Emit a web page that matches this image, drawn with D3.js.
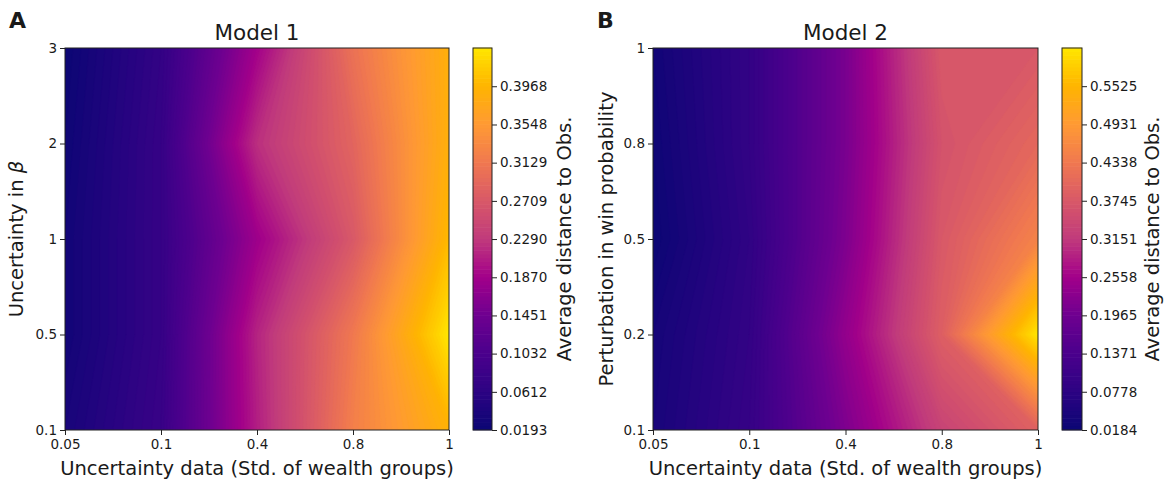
<!DOCTYPE html>
<html>
<head>
<meta charset="utf-8">
<script src="https://cdn.jsdelivr.net/npm/d3@7"></script>
<style>
  body { margin: 0; background: #fff; }
  text { font-family: "DejaVu Sans", sans-serif; fill: #1a1a1a; }
</style>
</head>
<body>
<div id="chart"></div>
<script>
// grid categories (shared x, separate y per model)
const xCats = ["0.05", "0.1", "0.4", "0.8", "1"];
const yCatsA = ["0.1", "0.5", "1", "2", "3"];
const yCatsB = ["0.1", "0.2", "0.5", "0.8", "1"];

// average distance to obs, rows go from bottom y category to top
const distA = [
    [0.0361, 0.0780, 0.2081, 0.3213, 0.3927],
    [0.0277, 0.0738, 0.2123, 0.3130, 0.4388],
    [0.0277, 0.0738, 0.1829, 0.2710, 0.4010],
    [0.0235, 0.0738, 0.2207, 0.2878, 0.3885],
    [0.0193, 0.0696, 0.1871, 0.3046, 0.3885]
];
const distB = [
    [0.0421, 0.0955, 0.2142, 0.3330, 0.3922],
    [0.0362, 0.0896, 0.2380, 0.3863, 0.6118],
    [0.0184, 0.0837, 0.2142, 0.3744, 0.4516],
    [0.0243, 0.0896, 0.2083, 0.3626, 0.4041],
    [0.0303, 0.0896, 0.2083, 0.3744, 0.3744]
];

// colorbar tick labels
const cbTicksA = [0.0193, 0.0612, 0.1032, 0.1451, 0.1870, 0.2290, 0.2709, 0.3129, 0.3548, 0.3968];
const cbTicksB = [0.0184, 0.0778, 0.1371, 0.1965, 0.2558, 0.3151, 0.3745, 0.4338, 0.4931, 0.5525];

// colour ramp (plasma-like, as in the picture)
const rampColors = ["#0b0674", "#2c0383", "#4a008c", "#6e0090", "#a2008a",
    "#c03a7c", "#d85868", "#f07850", "#ff9a34", "#ffb400", "#ffe600"];
const ramp = d3.scaleLinear()
    .domain(rampColors.map((c, i) => i / (rampColors.length - 1)))
    .range(rampColors)
    .interpolate(d3.interpolateRgb);

const nLevels = 100;

const svg = d3.select("#chart").append("svg")
    .attr("width", 1170)
    .attr("height", 484);

function drawPanel(opt) {
    const g = svg.append("g");
    const vals = opt.data.flat();
    const [vmin, vmax] = d3.extent(vals);
    const levels = d3.range(nLevels).map(i => vmin + i * (vmax - vmin) / nLevels);

    const x = d3.scaleLinear().domain([0, xCats.length - 1]).range([opt.left, opt.right]);
    const y = d3.scaleLinear().domain([0, opt.yCats.length - 1]).range([opt.bottom, opt.top]);

    // clip for the contour fills
    const clipId = "clip" + opt.name;
    svg.append("clipPath").attr("id", clipId)
        .append("rect")
        .attr("x", opt.left).attr("y", opt.top)
        .attr("width", opt.right - opt.left).attr("height", opt.bottom - opt.top);

    // d3.contours puts sample i at i + 0.5
    const proj = d3.geoTransform({
        point: function(px, py) { this.stream.point(x(px - 0.5), y(py - 0.5)); }
    });
    const path = d3.geoPath(proj);

    const contours = d3.contours()
        .size([xCats.length, opt.yCats.length])
        .thresholds(levels)(vals);

    g.append("g").attr("clip-path", `url(#${clipId})`)
        .selectAll("path")
        .data(contours)
        .join("path")
        .attr("d", path)
        .attr("fill", (d, i) => ramp((i + 0.5) / nLevels))
        .attr("stroke", (d, i) => ramp((i + 0.5) / nLevels))
        .attr("stroke-width", 0.6);

    // frame
    g.append("rect")
        .attr("x", opt.left).attr("y", opt.top)
        .attr("width", opt.right - opt.left).attr("height", opt.bottom - opt.top)
        .attr("fill", "none").attr("stroke", "#222").attr("stroke-width", 1);

    // axes
    const xAxis = g.append("g")
        .attr("transform", `translate(0, ${opt.bottom})`)
        .call(d3.axisBottom(x).tickValues(d3.range(xCats.length))
            .tickFormat(i => xCats[i]).tickSize(5).tickPadding(4.5));
    const yAxis = g.append("g")
        .attr("transform", `translate(${opt.left}, 0)`)
        .call(d3.axisLeft(y).tickValues(d3.range(opt.yCats.length))
            .tickFormat(i => opt.yCats[i]).tickSize(5).tickPadding(3));
    [xAxis, yAxis].forEach(a => {
        a.select(".domain").remove();
        a.selectAll("text").attr("font-size", 13.5).attr("font-family", "DejaVu Sans").attr("fill", "#1a1a1a");
        a.selectAll("line").attr("stroke", "#222");
    });

    // titles and labels
    g.append("text")
        .attr("x", (opt.left + opt.right) / 2).attr("y", 40)
        .attr("text-anchor", "middle").attr("font-size", 21.5)
        .text(opt.title);
    g.append("text")
        .attr("x", opt.panelX).attr("y", 28)
        .attr("font-size", 22).attr("font-weight", "bold")
        .text(opt.name);
    g.append("text")
        .attr("x", (opt.left + opt.right) / 2).attr("y", 475)
        .attr("text-anchor", "middle").attr("font-size", 19.5)
        .text("Uncertainty data (Std. of wealth groups)");

    const yl = g.append("text")
        .attr("transform", `translate(${opt.yLabelX}, ${(opt.top + opt.bottom) / 2}) rotate(-90)`)
        .attr("text-anchor", "middle").attr("font-size", 19.5);
    opt.yLabel.forEach(p => yl.append("tspan").attr("font-style", p.italic ? "italic" : null).text(p.t));

    // colorbar
    const cb = d3.scaleLinear().domain([vmin, vmax]).range([opt.bottom, opt.top]);
    const cbW = opt.cbRight - opt.cbLeft;
    g.append("g").selectAll("rect")
        .data(levels)
        .join("rect")
        .attr("x", opt.cbLeft)
        .attr("y", (d, i) => cb(i + 1 < nLevels ? levels[i + 1] : vmax) - 0.3)
        .attr("width", cbW)
        .attr("height", (d, i) => cb(d) - cb(i + 1 < nLevels ? levels[i + 1] : vmax) + 0.6)
        .attr("fill", (d, i) => ramp((i + 0.5) / nLevels));
    g.append("rect")
        .attr("x", opt.cbLeft).attr("y", opt.top)
        .attr("width", cbW).attr("height", opt.bottom - opt.top)
        .attr("fill", "none").attr("stroke", "#222").attr("stroke-width", 1);
    const cbAxis = g.append("g")
        .attr("transform", `translate(${opt.cbRight}, 0)`)
        .call(d3.axisRight(cb).tickValues(opt.cbTicks).tickFormat(d3.format(".4f"))
            .tickSize(5).tickPadding(3));
    cbAxis.select(".domain").remove();
    cbAxis.selectAll("text").attr("font-size", 13.5).attr("font-family", "DejaVu Sans").attr("fill", "#1a1a1a");
    cbAxis.selectAll("line").attr("stroke", "#222");

    g.append("text")
        .attr("transform", `translate(${opt.cbLabelX}, ${(opt.top + opt.bottom) / 2}) rotate(-90)`)
        .attr("text-anchor", "middle").attr("font-size", 19.5)
        .text("Average distance to Obs.");
}

drawPanel({
    name: "A", title: "Model 1", data: distA, yCats: yCatsA, cbTicks: cbTicksA,
    left: 65, right: 449, top: 48, bottom: 430,
    cbLeft: 473, cbRight: 492, panelX: 9, yLabelX: 23, cbLabelX: 571,
    yLabel: [{t: "Uncertainty in "}, {t: "β", italic: true}]
});
drawPanel({
    name: "B", title: "Model 2", data: distB, yCats: yCatsB, cbTicks: cbTicksB,
    left: 653, right: 1038, top: 48, bottom: 430,
    cbLeft: 1062, cbRight: 1082, panelX: 597, yLabelX: 613, cbLabelX: 1159,
    yLabel: [{t: "Perturbation in win probability"}]
});
</script>
</body>
</html>
